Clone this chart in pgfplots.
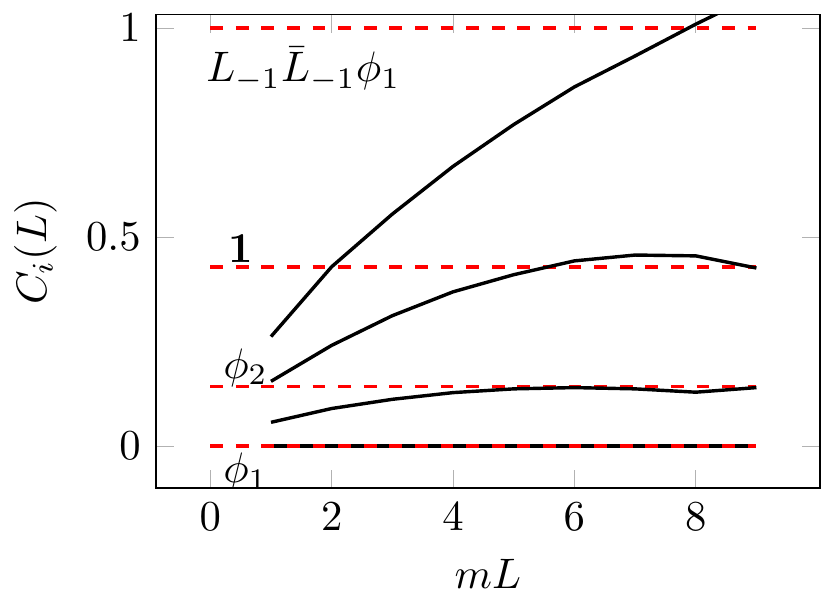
\documentclass[border=0pt]{standalone}
\usepackage{pgfplots}
\pgfplotsset{compat=1.18}
\begin{document}
\begin{tikzpicture}
\begin{axis}[
  scale only axis,
  width=155.8pt,
  height=111pt,
  xmin=-0.9, xmax=10.05,
  ymin=-0.1, ymax=1.032,
  xtick={0,2,4,6,8},
  ytick={0,0.5,1},
  xlabel={$mL$},
  ylabel={$C_i(L)$},
  tick style={gray!60},
]
% reference levels
\addplot[red, dashed, thick] coordinates {(0,1) (9,1)};
\addplot[red, dashed, thick] coordinates {(0,0.428571) (9,0.428571)};
\addplot[red, dashed, thick] coordinates {(0,0.142857) (9,0.142857)};
\addplot[black, thick] coordinates {(1,0) (9,0)};
\addplot[red, dashed, thick] coordinates {(0,0) (9,0)};

% measured curves
\addplot[black, thick] coordinates {
  (1,0.262) (2,0.429) (3,0.555) (4,0.669) (5,0.769) (6,0.859) (7,0.933) (8,1.009) (9,1.080)
};
\addplot[black, thick] coordinates {
  (1,0.155) (2,0.241) (3,0.312) (4,0.369) (5,0.410) (6,0.443) (7,0.457) (8,0.455) (9,0.426)
};
\addplot[black, thick] coordinates {
  (1,0.057) (2,0.090) (3,0.112) (4,0.128) (5,0.137) (6,0.140) (7,0.137) (8,0.129) (9,0.140)
};

\node[anchor=base west, inner sep=0] at (axis cs:-0.08,0.871) {$L_{-1}\bar{L}_{-1}\phi_1$};
\node[anchor=base west, inner sep=0] at (axis cs:0.28,0.44) {$\mathbf{1}$};
\node[anchor=base west, inner sep=0] at (axis cs:0.2,0.162) {$\phi_2$};
\node[anchor=base west, inner sep=0] at (axis cs:0.2,-0.088) {$\phi_1$};
\end{axis}
\end{tikzpicture}
\end{document}
